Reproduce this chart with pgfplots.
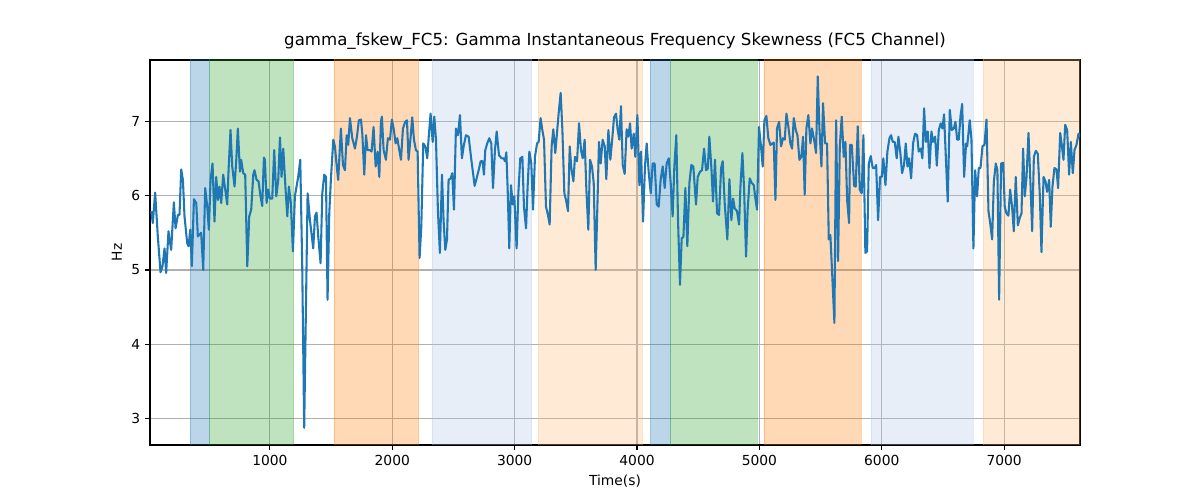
\documentclass[border=0pt]{standalone}
\usepackage{fontspec}
\setmainfont{DejaVu Sans}
\usepackage{pgfplots}
\pgfplotsset{compat=1.18}

\definecolor{c0}{HTML}{1F77B4}
\definecolor{c1}{HTML}{FF7F0E}
\definecolor{c2}{HTML}{2CA02C}
\definecolor{lb}{HTML}{AEC7E8}
\definecolor{lo}{HTML}{FFBB78}
\definecolor{gridgray}{HTML}{B0B0B0}

\begin{document}
\begin{tikzpicture}
\useasboundingbox (-1.5in,-0.55in) rectangle (10.5in,4.45in);
\begin{axis}[
at={(0,0)}, anchor=south west,
scale only axis,
width=9.3in, height=3.85in,
xmin=20, xmax=7620,
ymin=2.65, ymax=7.82,
xtick={1000,2000,3000,4000,5000,6000,7000},
ytick={3,4,5,6,7},
grid=major,
major grid style={gridgray, line width=0.8pt},
axis line style={line width=0.8pt},
tick style={black, line width=0.8pt},
tick align=outside,
tick pos=left,
major tick length=3.5pt,
/pgf/number format/assume math mode=true,
/pgf/number format/set thousands separator={},
tick label style={font=\fontsize{10}{12}\selectfont},
xlabel={Time(s)},
ylabel={Hz},
label style={font=\fontsize{10}{12}\selectfont},
title={gamma\_fskew\_FC5: Gamma Instantaneous Frequency Skewness (FC5 Channel)},
title style={font=\fontsize{12}{14}\selectfont, yshift=-2pt},
]
% shaded segments
\addplot[fill=c0, fill opacity=0.3, draw=c0, draw opacity=0.3] coordinates {(348,0) (507,0) (507,10) (348,10)} \closedcycle;
\addplot[fill=c2, fill opacity=0.3, draw=c2, draw opacity=0.3] coordinates {(507,0) (1193,0) (1193,10) (507,10)} \closedcycle;
\addplot[fill=c1, fill opacity=0.3, draw=c1, draw opacity=0.3] coordinates {(1523,0) (2215,0) (2215,10) (1523,10)} \closedcycle;
\addplot[fill=lb, fill opacity=0.3, draw=lb, draw opacity=0.3] coordinates {(2324,0) (3139,0) (3139,10) (2324,10)} \closedcycle;
\addplot[fill=lo, fill opacity=0.3, draw=lo, draw opacity=0.3] coordinates {(3191,0) (4046,0) (4046,10) (3191,10)} \closedcycle;
\addplot[fill=c0, fill opacity=0.3, draw=c0, draw opacity=0.3] coordinates {(4106,0) (4275,0) (4275,10) (4106,10)} \closedcycle;
\addplot[fill=c2, fill opacity=0.3, draw=c2, draw opacity=0.3] coordinates {(4275,0) (4981,0) (4981,10) (4275,10)} \closedcycle;
\addplot[fill=c1, fill opacity=0.3, draw=c1, draw opacity=0.3] coordinates {(5036,0) (5831,0) (5831,10) (5036,10)} \closedcycle;
\addplot[fill=lb, fill opacity=0.3, draw=lb, draw opacity=0.3] coordinates {(5913,0) (6747,0) (6747,10) (5913,10)} \closedcycle;
\addplot[fill=lo, fill opacity=0.3, draw=lo, draw opacity=0.3] coordinates {(6829,0) (7700,0) (7700,10) (6829,10)} \closedcycle;

\addplot[c0, line width=1.5pt, line join=round] table {
x y
30 5.79
43 5.63
62 6.04
84 5.45
106 4.97
122 5.05
139 5.29
152 4.96
171 5.52
193 5.27
215 5.91
229 5.56
248 5.74
261 5.74
275 6.35
289 6.21
302 5.72
324 5.36
335 5.32
349 5.54
362 5.05
379 5.95
398 5.90
411 5.45
438 5.50
455 5.00
471 6.10
488 5.85
501 5.54
515 6.21
531 6.43
547 5.65
561 6.25
575 5.94
588 6.12
602 5.90
618 6.28
635 6.08
651 5.88
662 6.34
678 6.88
692 6.39
711 6.12
725 6.48
738 6.90
755 6.32
765 6.48
782 6.30
798 6.28
815 5.05
831 5.72
847 5.81
864 6.28
874 6.34
891 6.21
907 6.19
923 5.99
937 5.86
951 6.51
959 6.48
973 5.90
986 6.08
1000 5.96
1019 5.96
1035 6.61
1052 5.99
1068 6.21
1082 6.78
1095 6.25
1109 6.63
1128 6.08
1142 5.72
1155 6.12
1171 5.90
1188 5.25
1204 5.99
1231 6.25
1248 6.48
1264 5.05
1280 2.88
1308 6.03
1327 5.67
1354 5.29
1368 5.72
1381 5.77
1395 5.45
1414 5.09
1428 6.03
1444 6.28
1458 6.25
1471 4.60
1485 5.76
1498 6.21
1518 6.75
1531 6.66
1545 6.41
1558 6.21
1580 6.90
1597 6.41
1613 6.34
1627 6.81
1640 6.68
1654 7.04
1673 6.77
1695 6.63
1711 6.79
1727 7.01
1744 7.02
1755 6.83
1771 6.28
1785 6.81
1798 6.61
1817 6.61
1831 6.59
1847 6.92
1864 6.39
1880 6.59
1894 6.25
1907 6.99
1915 7.06
1929 6.61
1948 6.48
1964 6.77
1981 6.75
1997 7.02
2013 6.88
2027 6.70
2041 6.77
2057 6.61
2071 6.48
2087 6.90
2106 6.99
2120 7.01
2133 6.48
2150 6.79
2163 7.05
2177 6.75
2193 6.61
2207 6.59
2223 5.16
2237 5.58
2253 6.70
2270 6.66
2286 6.50
2297 6.77
2313 7.10
2330 6.72
2343 7.06
2357 6.75
2373 5.79
2389 5.23
2406 6.28
2419 5.67
2433 5.27
2447 5.41
2460 6.21
2477 6.23
2490 6.30
2504 5.81
2520 6.90
2537 6.81
2553 7.08
2569 6.50
2583 6.66
2602 6.81
2624 6.79
2643 6.52
2657 6.34
2673 6.13
2689 6.23
2706 6.34
2722 6.46
2738 6.46
2749 6.28
2760 6.61
2776 6.70
2793 6.77
2809 6.70
2823 6.10
2839 6.61
2853 6.86
2872 6.54
2894 6.50
2910 6.50
2921 6.46
2932 6.58
2943 6.08
2956 5.29
2970 6.14
2984 5.88
2997 5.99
3016 5.29
3030 6.03
3046 6.50
3063 6.52
3076 5.85
3093 5.56
3106 6.12
3120 6.59
3136 6.43
3150 5.81
3166 6.52
3183 6.70
3196 6.72
3212 7.04
3226 6.88
3240 6.75
3256 5.85
3272 5.74
3286 5.61
3302 6.66
3316 6.89
3332 6.57
3349 6.90
3362 7.15
3376 7.38
3390 6.88
3406 6.03
3420 5.94
3436 5.79
3450 6.66
3463 6.37
3480 6.19
3493 6.52
3510 6.46
3526 6.97
3542 6.61
3556 6.50
3572 6.75
3586 6.08
3602 5.54
3616 6.48
3632 6.39
3646 6.17
3662 5.00
3676 5.85
3689 6.72
3703 6.43
3719 6.75
3736 6.66
3749 6.22
3766 6.88
3782 6.48
3798 6.77
3812 7.05
3828 7.10
3842 6.88
3855 6.75
3869 7.20
3883 6.41
3899 6.29
3915 6.89
3929 6.79
3943 6.97
3956 6.63
3973 6.83
3986 6.52
4003 7.08
4019 6.14
4033 6.59
4049 5.65
4065 6.39
4079 6.70
4095 6.32
4112 6.03
4128 6.43
4144 6.43
4161 5.88
4177 5.85
4193 6.21
4210 6.39
4226 6.10
4242 6.43
4259 6.50
4275 6.17
4291 5.72
4305 6.39
4321 6.81
4335 5.67
4351 4.80
4365 5.43
4379 5.44
4395 6.10
4411 5.32
4428 6.17
4444 6.41
4460 6.39
4482 5.88
4496 6.25
4515 6.32
4531 6.34
4548 6.63
4564 6.34
4578 6.36
4591 6.79
4608 6.36
4621 5.92
4637 6.48
4654 5.76
4670 5.74
4687 6.37
4700 6.46
4717 5.88
4738 5.41
4755 6.22
4771 5.67
4785 5.96
4798 5.83
4817 5.79
4834 5.61
4845 6.12
4861 6.57
4875 6.08
4891 5.18
4904 5.81
4921 6.23
4937 6.17
4954 6.14
4967 5.96
4981 5.81
4997 6.92
5013 6.66
5027 6.39
5041 7.01
5057 7.07
5073 6.77
5090 6.68
5106 6.70
5117 6.71
5131 5.94
5144 6.90
5161 6.99
5177 6.66
5193 6.77
5207 6.75
5221 7.10
5237 6.92
5253 6.70
5267 6.63
5281 7.04
5297 6.88
5311 6.81
5327 6.48
5343 6.52
5357 6.79
5370 6.01
5384 6.90
5400 7.08
5417 6.70
5430 6.90
5447 6.75
5463 6.57
5477 7.60
5490 6.92
5507 6.39
5520 7.24
5537 6.70
5553 6.70
5567 5.41
5580 5.47
5597 4.87
5613 4.29
5627 7.01
5643 5.12
5657 6.66
5673 7.06
5689 6.52
5703 6.72
5717 5.94
5733 5.63
5741 6.68
5755 6.68
5774 6.13
5787 6.12
5804 6.93
5820 6.08
5836 6.03
5850 6.81
5866 5.23
5880 5.25
5894 6.43
5910 6.53
5926 6.37
5943 6.37
5954 6.41
5970 5.67
5986 6.25
6000 6.25
6013 6.50
6030 6.14
6046 6.59
6063 6.77
6076 6.81
6090 6.72
6106 6.72
6122 6.50
6136 6.79
6152 6.57
6166 6.30
6182 6.41
6196 6.70
6210 6.39
6223 6.50
6240 6.23
6256 6.70
6272 6.83
6289 6.81
6302 6.59
6319 6.63
6332 6.50
6346 7.17
6360 6.72
6376 6.86
6390 6.37
6406 6.86
6419 6.72
6436 6.79
6450 6.40
6466 6.88
6482 6.97
6496 6.90
6509 7.09
6523 6.54
6539 5.92
6556 7.15
6572 6.88
6589 6.90
6602 6.99
6616 6.75
6629 6.75
6643 7.06
6657 7.23
6673 6.25
6689 6.70
6698 6.66
6719 7.01
6733 6.75
6749 5.29
6763 6.34
6779 5.99
6793 6.37
6807 6.37
6823 6.66
6839 6.68
6856 7.02
6872 5.79
6886 5.63
6902 5.41
6916 6.19
6932 6.43
6945 6.34
6959 4.60
6975 6.43
6992 6.44
7005 5.85
7019 5.76
7035 5.73
7049 6.08
7065 5.85
7079 5.52
7095 6.25
7112 5.60
7128 5.70
7142 5.76
7155 6.63
7169 5.99
7183 6.25
7199 6.84
7215 6.17
7229 5.52
7243 6.52
7259 6.60
7275 6.56
7292 5.99
7305 5.24
7322 6.25
7338 6.19
7351 6.05
7368 6.21
7381 5.58
7395 6.12
7411 6.37
7428 6.35
7441 6.10
7458 6.84
7471 6.68
7485 6.48
7499 6.95
7515 6.88
7531 6.28
7545 6.72
7561 6.30
7575 6.61
7591 6.68
7608 6.83
7624 6.79
};
\end{axis}
\end{tikzpicture}
\end{document}
